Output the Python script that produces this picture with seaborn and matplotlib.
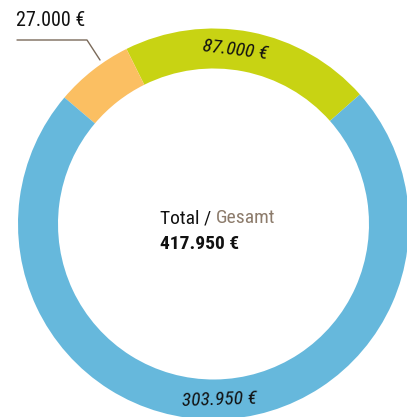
import matplotlib
matplotlib.use('Agg')
import numpy as np
import seaborn as sns
import matplotlib.pyplot as plt

sns.set_theme(style='white')
plt.rcParams['font.family'] = ['Roboto Condensed', 'DejaVu Sans']

labels = ['87.000 €', '27.000 €', '303.950 €']
values = [87000, 27000, 303950]
colors = ['#c8d313', '#fbbf62', '#66b8dc']
total_label = '417.950 €'

fig = plt.figure(figsize=(4.07, 4.17), dpi=100)
ax = fig.add_axes([0, 0, 1, 1])

H = 417
cx, cy = 213.5, H - 224
R, w = 195.5, 40
ax.pie(values, colors=colors, radius=R, center=(cx, cy), startangle=41.5,
       counterclock=True, wedgeprops=dict(width=w, linewidth=0), frame=False)
ax.set_xlim(0, 407)
ax.set_ylim(0, H)
ax.set_aspect('equal')
ax.axis('off')

rm = R - w / 2
for lab, ang in [(labels[0], 83), (labels[2], -88.2)]:
    a = np.deg2rad(ang)
    ax.text(cx + rm * np.cos(a), cy + rm * np.sin(a), lab, fontsize=14,
            style='italic', rotation=ang - 90 if ang > 0 else ang + 90,
            ha='center', va='center', color='#111111')

# leader for the small slice
ax.plot([17, 87, 100], [H - 40, H - 40, H - 60], color='#7a6a5a', lw=1)
ax.text(16, H - 20, labels[1], fontsize=14.5, ha='left', va='center', color='#111111')

t = ax.text(160, H - 218, 'Total / ', fontsize=14, ha='left', va='center', color='#111111')
fig.canvas.draw()
bb = t.get_window_extent().transformed(ax.transData.inverted())
ax.text(bb.x1, H - 218, 'Gesamt', fontsize=14, ha='left', va='center', color='#8c7b6b')
ax.text(160, H - 244, total_label, fontsize=14, fontweight='bold', ha='left',
        va='center', color='#111111')

fig.savefig('out.png', dpi=100)
